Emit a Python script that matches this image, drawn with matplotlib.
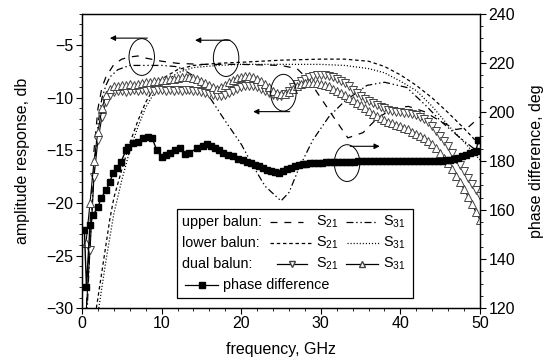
import matplotlib
matplotlib.use("Agg")
import matplotlib.pyplot as plt
import numpy as np
from matplotlib.lines import Line2D
from matplotlib.patches import Ellipse, Rectangle
from matplotlib.ticker import MultipleLocator

plt.rcParams["font.family"] = ["Liberation Sans", "DejaVu Sans"]
plt.rcParams["mathtext.default"] = "regular"
plt.rcParams["lines.scale_dashes"] = False

# ---- data ----
upper_s21_f = [0.5, 1.0, 1.5, 2.0, 2.5, 3.0, 4.0, 5.0, 6.0, 7.0, 8.0, 10.0, 12.0, 15.0,
               20.0, 25.0, 27.0, 28.5, 30.0, 31.5, 33.4, 35.3, 37.0, 39.0, 41.0, 43.0,
               45.0, 47.0, 48.5, 50.0]
upper_s21 = [-31, -22, -15, -11, -9, -8, -6.8, -6.3, -6.1, -6.0, -6.2, -6.5, -6.7, -6.8,
             -6.8, -6.9, -7.2, -8.3, -10.0, -11.7, -13.8, -13.3, -12.0, -11.0, -10.8, -11.3,
             -12.2, -13.0, -12.8, -11.8]

upper_s31_f = [0.6, 1.0, 1.5, 2.0, 2.5, 3.0, 3.5, 4.5, 6.0, 8.0, 10.0, 11.7, 12.5, 13.8,
               14.4, 16.0, 18.0, 20.0, 21.5, 23.0, 25.0, 26.0, 27.3, 29.0, 31.0, 33.0,
               35.8, 38.0, 40.8, 43.3, 45.2, 47.5, 49.2, 50.0]
upper_s31 = [-31, -24, -17, -12.5, -10, -8.8, -8.0, -7.3, -6.9, -6.9, -6.9, -7.0, -7.2, -7.8,
             -8.3, -9.9, -12.2, -14.4, -16.5, -18.4, -19.8, -19.0, -16.6, -14.0, -11.8, -10.3,
             -8.8, -8.5, -9.0, -10.8, -12.3, -13.8, -14.8, -15.3]

lower_s21_f = [1.8, 2.5, 3, 3.5, 4, 5, 6, 7, 8, 9, 10, 12, 14, 17, 20, 25, 30, 33, 36,
               38, 40, 42, 44, 46, 48, 50]
lower_s21 = [-30, -26.5, -24, -21.5, -19.5, -16.8, -14.3, -12.2, -10.4, -9.1, -8.2, -7.3,
             -6.9, -6.7, -6.6, -6.4, -6.3, -6.3, -6.5, -7.0, -7.8, -8.8, -10.0, -11.4,
             -12.9, -14.5]

lower_s31_f = [2.1, 3, 4, 5, 6, 7, 8, 9, 10, 12, 14, 17, 20, 25, 30, 33, 36, 38, 40, 42,
               44, 46, 48, 50]
lower_s31 = [-30, -25.5, -21, -17.8, -15.0, -12.8, -10.9, -9.6, -8.7, -7.6, -7.1, -6.9,
             -6.8, -6.8, -6.8, -6.9, -7.2, -7.6, -8.4, -9.3, -10.8, -12.6, -14.2, -15.9]

dual_f = np.arange(0.5, 50.01, 0.5)
dual_s21 = [-30.5, -24.5, -17.5, -14.0, -11.8, -10.4, -9.7, -9.4, -9.3, -9.3,
            -9.4, -9.3, -9.2, -9.3, -9.2, -9.3, -9.2, -9.3, -9.2, -9.2,
            -9.3, -9.2, -9.3, -9.2, -9.3, -9.2, -9.2, -9.3, -9.3, -9.4,
            -9.5, -9.6, -9.7, -9.8, -9.8, -9.7, -9.5, -9.3, -9.1, -9.0,
            -8.9, -8.9, -8.9, -9.0, -9.1, -9.3, -9.5, -9.7, -9.8, -9.8,
            -9.6, -9.3, -9.0, -8.7, -8.4, -8.2, -8.0, -7.9, -7.8, -7.8,
            -7.8, -7.9, -8.0, -8.2, -8.4, -8.6, -8.9, -9.2, -9.5, -9.8,
            -10.1, -10.3, -10.5, -10.7, -10.9, -11.0, -11.1, -11.2, -11.3, -11.3,
            -11.4, -11.4, -11.5, -11.6, -11.8, -12.0, -12.3, -12.7, -13.1, -13.6,
            -14.1, -14.6, -15.2, -15.8, -16.4, -17.0, -17.6, -18.2, -18.8, -19.3]
dual_s31 = [-23.8, -20.0, -16.0, -13.2, -11.0, -9.7, -9.1, -8.9, -8.9, -8.8,
            -8.8, -8.7, -8.8, -8.7, -8.6, -8.5, -8.5, -8.4, -8.4, -8.3,
            -8.3, -8.2, -8.2, -8.1, -8.0, -8.0, -8.0, -8.1, -8.2, -8.4,
            -8.6, -8.8, -9.0, -9.1, -9.0, -8.8, -8.5, -8.3, -8.1, -8.0,
            -7.9, -7.9, -8.0, -8.2, -8.4, -8.7, -9.0, -9.3, -9.5, -9.6,
            -9.6, -9.4, -9.1, -8.9, -8.7, -8.6, -8.6, -8.6, -8.6, -8.7,
            -8.8, -8.9, -9.1, -9.3, -9.5, -9.7, -10.0, -10.2, -10.5, -10.7,
            -11.0, -11.2, -11.5, -11.7, -11.9, -12.1, -12.3, -12.4, -12.6, -12.7,
            -12.9, -13.0, -13.2, -13.4, -13.6, -13.8, -14.1, -14.4, -14.8, -15.2,
            -15.7, -16.2, -16.8, -17.4, -18.0, -18.7, -19.4, -20.1, -20.9, -21.6]

phase_f = [0.3, 0.55, 1.0, 1.4, 2.0, 2.4, 3.0, 3.5, 3.9, 4.4, 4.9, 5.5, 5.8, 6.4, 7.0,
           7.7, 8.3, 8.8, 9.4, 10.0, 10.5, 11.1, 11.7, 12.3, 12.9, 13.5, 14.4, 15.2,
           15.7, 16.2, 16.7, 17.2, 17.7, 18.4, 19.0, 19.6, 20.2, 20.7, 21.2, 21.7, 22.2,
           22.7, 23.2, 23.7, 24.2, 24.7, 25.2, 25.7, 26.2, 26.7, 27.2, 27.7, 28.2, 28.7,
           29.2, 29.7, 30.2, 30.7, 31.2, 31.7, 32.2, 32.7, 33.2, 33.7, 34.2, 34.7, 35.2,
           35.7, 36.2, 36.7, 37.2, 37.7, 38.2, 38.7, 39.2, 39.7, 40.2, 40.7, 41.2, 41.7,
           42.2, 42.7, 43.2, 43.7, 44.2, 44.7, 45.2, 45.7, 46.2, 46.7, 47.2, 47.7, 48.2,
           48.7, 49.2, 49.5, 49.8]
phase = [151.7, 128.6, 153.9, 158.1, 161.1, 165.0, 168.0, 171.4, 175.3, 177.0, 179.6,
         184.3, 185.6, 187.3, 187.7, 189.4, 189.9, 189.4, 184.3, 181.7, 182.6, 183.4,
         184.3, 185.1, 183.0, 183.4, 185.1, 186.0, 186.9, 186.0, 185.1, 184.3, 183.4,
         182.6, 182.1, 180.9, 180.4, 179.6, 179.1, 178.5, 177.9, 177.2, 176.5, 176.0,
         175.6, 175.3, 175.8, 176.6, 177.3, 177.9, 178.4, 178.7, 178.9, 179.0, 179.1,
         179.2, 179.3, 179.4, 179.5, 179.5, 179.6, 179.6, 179.7, 179.7, 179.7, 179.8,
         179.8, 179.8, 179.8, 179.9, 179.9, 179.9, 179.9, 179.9, 180.0, 180.0, 180.0,
         180.0, 180.0, 180.0, 180.0, 180.0, 180.0, 180.0, 180.0, 180.1, 180.2, 180.3,
         180.5, 180.9, 181.4, 182.0, 182.6, 183.1, 183.6, 184.2, 188.5]

fig = plt.figure(figsize=(5.47, 3.63), dpi=100)
ax = fig.add_axes([0.15, 0.1515, 0.7275, 0.81])
ax2 = ax.twinx()

lw = 0.9
ax.plot(upper_s21_f, upper_s21, color="black", lw=lw, ls=(0, (5, 5)))
ax.plot(upper_s31_f, upper_s31, color="black", lw=lw, ls=(0, (5, 2, 1, 2, 1, 2)))
ax.plot(lower_s21_f, lower_s21, color="black", lw=lw, ls=(0, (2.5, 2)))
ax.plot(lower_s31_f, lower_s31, color="black", lw=lw, ls=(0, (0.8, 1.4)))
ax.plot(dual_f, dual_s21, color="black", lw=0.8, marker="v", ms=6,
        mfc="white", mec="#444444", mew=0.7)
ax.plot(dual_f, dual_s31, color="black", lw=0.8, marker="^", ms=6,
        mfc="white", mec="#444444", mew=0.7)
ax2.plot(phase_f, phase, color="black", lw=1.0, marker="s", ms=4.8, mfc="black", mec="black")

ax.set_xlim(0, 50)
ax.set_ylim(-30, -2)
ax2.set_ylim(120, 240)
ax.xaxis.set_major_locator(MultipleLocator(10))
ax.xaxis.set_minor_locator(MultipleLocator(2))
ax.yaxis.set_major_locator(MultipleLocator(5))
ax.yaxis.set_minor_locator(MultipleLocator(1))
ax2.yaxis.set_major_locator(MultipleLocator(20))
ax2.yaxis.set_minor_locator(MultipleLocator(5))
for a in (ax, ax2):
    a.tick_params(which="major", length=4, width=0.8, labelsize=11.5, pad=2)
    a.tick_params(which="minor", length=2.5, width=0.6)
    for s in a.spines.values():
        s.set_linewidth(0.9)

ax.set_xlabel("frequency, GHz", fontsize=11.5, labelpad=8)
ax.set_ylabel("amplitude response, db", fontsize=11.5, labelpad=12)
ax2.set_ylabel("phase difference, deg", fontsize=11.5, labelpad=10)

# annotation ellipses and arrows
for cx, cy in [(7.5, -6.1), (18.1, -6.2), (25.3, -9.5), (33.3, -16.2)]:
    ax2.add_patch(Ellipse((cx, cy), 3.2, 3.5, transform=ax.transData,
                          fill=False, lw=0.7, ec="black"))
for x0, x1, y in [(8.2, 3.5, -4.3), (18.6, 14.2, -4.5), (26.1, 21.5, -11.3), (33.7, 37.4, -14.6)]:
    ax.annotate("", xy=(x1, y), xytext=(x0, y),
                arrowprops=dict(arrowstyle="-|>", lw=0.8, color="black",
                                mutation_scale=8, shrinkA=0, shrinkB=0))


# hand-built legend, placed with pixel positions of the reference
def fx(px):
    return (px - 82) / 398


def fy(py):
    return (308 - py) / 294


tr = ax2.transAxes
ax2.add_patch(Rectangle((fx(177), fy(298)), fx(413) - fx(177), fy(209) - fy(298),
                        transform=tr, fc="white", ec="black", lw=0.9, zorder=10))
rows = [222, 243, 264, 285]
fs = 10.4
for txt, py in zip(["upper balun:", "lower balun:", "dual balun:"], rows[:3]):
    ax2.text(fx(182), fy(py), txt, transform=tr, fontsize=fs, va="center", zorder=11)
styles = [
    (dict(ls=(0, (5, 5))), dict(ls=(0, (5, 2, 1, 2, 1, 2)))),
    (dict(ls=(0, (2.5, 2))), dict(ls=(0, (0.8, 1.4)))),
    (dict(marker="v", ms=5, mfc="white", mec="#444444"), dict(marker="^", ms=5, mfc="white", mec="#444444")),
]
spans = [((270, 303), (346, 378)), ((270, 313), (347, 380)), ((277, 307), (346, 378))]
for py, (st21, st31), (sp21, sp31) in zip(rows[:3], styles, spans):
    for st, sp, lab, tx in [(st21, sp21, "S$_{21}$", 316), (st31, sp31, "S$_{31}$", 383)]:
        mid = (fx(sp[0]) + fx(sp[1])) / 2
        ax2.add_line(Line2D([fx(sp[0]), mid, fx(sp[1])], [fy(py)] * 3, transform=tr,
                            color="black", lw=0.9, markevery=[1], zorder=11, **st))
        ax2.text(fx(tx), fy(py), lab, transform=tr, fontsize=fs, va="center", zorder=11)
ax2.add_line(Line2D([fx(185), (fx(185) + fx(218)) / 2, fx(218)], [fy(rows[3])] * 3,
                    transform=tr, color="black", lw=0.9, marker="s", ms=4.8,
                    markevery=[1], zorder=11))
ax2.text(fx(223), fy(rows[3]), "phase difference", transform=tr, fontsize=fs,
         va="center", zorder=11)

fig.savefig("out.png", dpi=100)
